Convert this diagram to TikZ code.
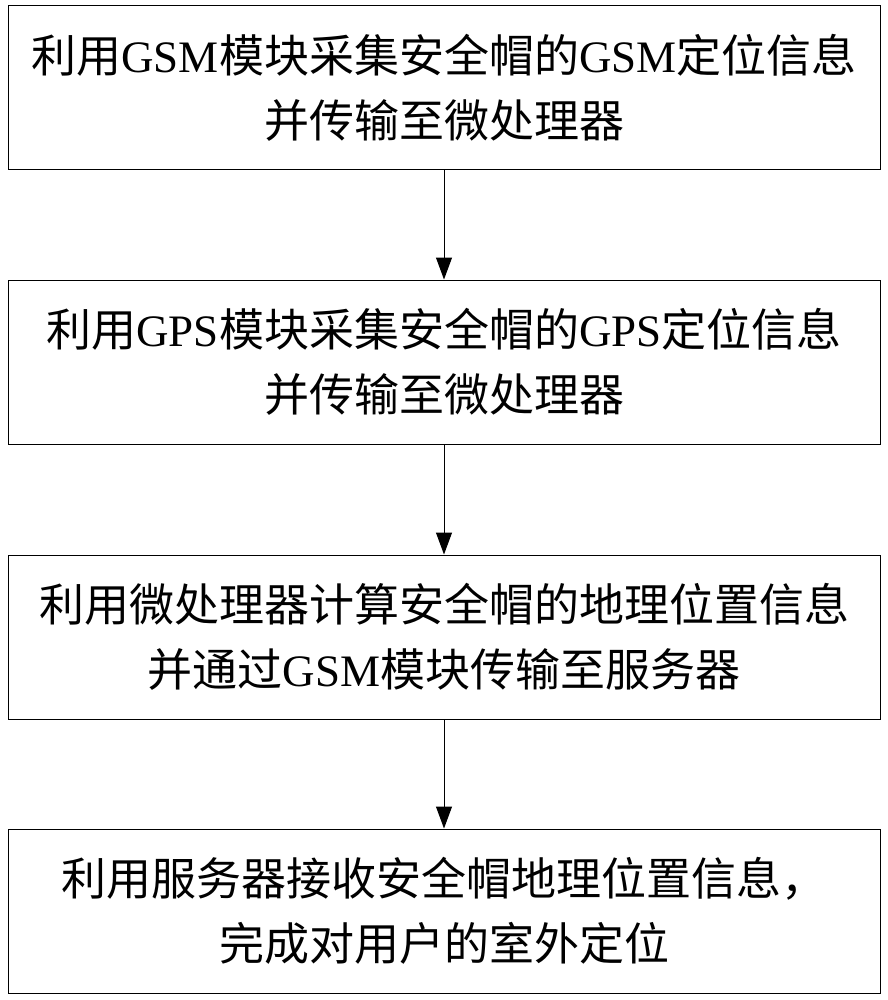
\documentclass[tikz,border=0pt]{standalone}
\usepackage{fontspec}
\setmainfont{Liberation Serif}
\newfontfamily\cjk{Noto Sans CJK SC}
\usetikzlibrary{arrows.meta}
\begin{document}
\begin{tikzpicture}[x=1pt,y=-1pt,
  stepbox/.style={draw,line width=1pt,minimum width=872pt,minimum height=164pt,align=center,font=\fontsize{45}{65}\selectfont,inner sep=0pt},
  arr/.style={-{Triangle[length=22pt,width=16pt]},line width=1pt}]
\useasboundingbox (0,0) rectangle (887,1000);
\node[stepbox] (b1) at (444,88) {{\cjk 利用}GSM{\cjk 模块采集安全帽的}GSM{\cjk 定位信息}\\{\cjk 并传输至微处理器}};
\node[stepbox] (b2) at (444,362) {{\cjk 利用}GPS{\cjk 模块采集安全帽的}GPS{\cjk 定位信息}\\{\cjk 并传输至微处理器}};
\node[stepbox] (b3) at (444,637) {{\cjk 利用微处理器计算安全帽的地理位置信息}\\{\cjk 并通过}GSM{\cjk 模块传输至服务器}};
\node[stepbox] (b4) at (444,911) {{\cjk 利用服务器接收安全帽地理位置信息，}\\{\cjk 完成对用户的室外定位}};
\draw[arr] (b1) -- (b2);
\draw[arr] (b2) -- (b3);
\draw[arr] (b3) -- (b4);
\end{tikzpicture}
\end{document}
